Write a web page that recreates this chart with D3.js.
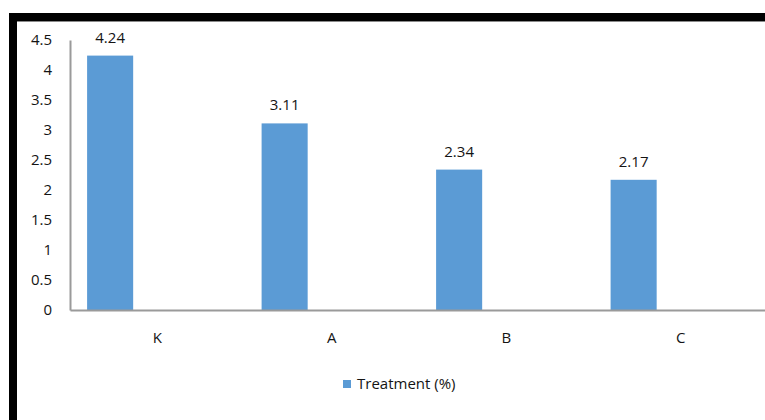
<!DOCTYPE html>
<html>
<head>
<meta charset="utf-8">
<script src="https://cdn.jsdelivr.net/npm/d3@7"></script>
<style>
  html, body { margin: 0; padding: 0; background: #fff; }
  svg { display: block; }
  text { font-family: "Open Sans", Lato, sans-serif; fill: #141414; }
</style>
</head>
<body>
<svg id="chart" width="765" height="420"></svg>
<script>
// Treatment results per group
const categories = ["K", "A", "B", "C"];
const treatment = [4.24, 3.11, 2.34, 2.17];
const seriesName = "Treatment (%)";
const yTicks = [0, 0.5, 1, 1.5, 2, 2.5, 3, 3.5, 4, 4.5];

const W = 765, H = 420;
const svg = d3.select("#chart");
const barColor = "#5b9bd5";
const axisColor = "#9a9a9a";
const font = "'Open Sans', Lato, sans-serif";
const fontSize = 15;

// frame: heavy black edges top and left
svg.append("rect").attr("x", 9).attr("y", 13).attr("width", W - 9).attr("height", 8).attr("fill", "#000");
svg.append("rect").attr("x", 9).attr("y", 21).attr("width", W - 9).attr("height", 1).attr("fill", "#8a8a8a");
svg.append("rect").attr("x", 9).attr("y", 13).attr("width", 8).attr("height", H - 13).attr("fill", "#000");

const plot = { left: 70, right: 768, top: 40, bottom: 310 };

const x = d3.scaleBand().domain(categories).range([plot.left, plot.right]).padding(0);
const y = d3.scaleLinear().domain([0, 4.5]).range([plot.bottom, plot.top]);

// bars occupy the first slot of each category group
const barOffset = x.bandwidth() * 0.098;
const barWidth = x.bandwidth() * 0.264;

const data = categories.map((c, i) => ({ c, v: treatment[i] }));

// y axis (labels only, plus the axis line)
const yAxis = d3.axisLeft(y).tickValues(yTicks).tickSize(0).tickPadding(18)
  .tickFormat(d => d3.format("")(d));
const gy = svg.append("g").attr("transform", `translate(${plot.left},0)`).call(yAxis);
gy.select(".domain").attr("stroke", axisColor).attr("stroke-width", 2);
gy.selectAll("text").attr("font-size", fontSize).style("font-family", font).attr("fill", "#141414");

// bars
svg.append("g").selectAll("rect").data(data).join("rect")
  .attr("x", d => x(d.c) + barOffset)
  .attr("y", d => y(d.v))
  .attr("width", barWidth)
  .attr("height", d => y(0) - y(d.v))
  .attr("fill", barColor);

// x axis
const xAxis = d3.axisBottom(x).tickSize(0).tickPadding(22);
const gx = svg.append("g").attr("transform", `translate(0,${plot.bottom})`).call(xAxis);
gx.select(".domain").attr("stroke", axisColor).attr("stroke-width", 2);
gx.selectAll("text").attr("font-size", fontSize).style("font-family", font).attr("fill", "#141414");

// value labels
svg.append("g").selectAll("text").data(data).join("text")
  .attr("x", d => x(d.c) + barOffset + barWidth / 2)
  .attr("y", d => y(d.v) - 13)
  .attr("text-anchor", "middle")
  .attr("font-size", fontSize)
  .text(d => d.v.toFixed(2));

// legend
const lg = svg.append("g").attr("transform", "translate(343,380)");
lg.append("rect").attr("width", 8).attr("height", 8).attr("fill", barColor);
lg.append("text").attr("x", 14).attr("y", 4).attr("dy", "0.35em").attr("font-size", fontSize).text(seriesName);
</script>
</body>
</html>
